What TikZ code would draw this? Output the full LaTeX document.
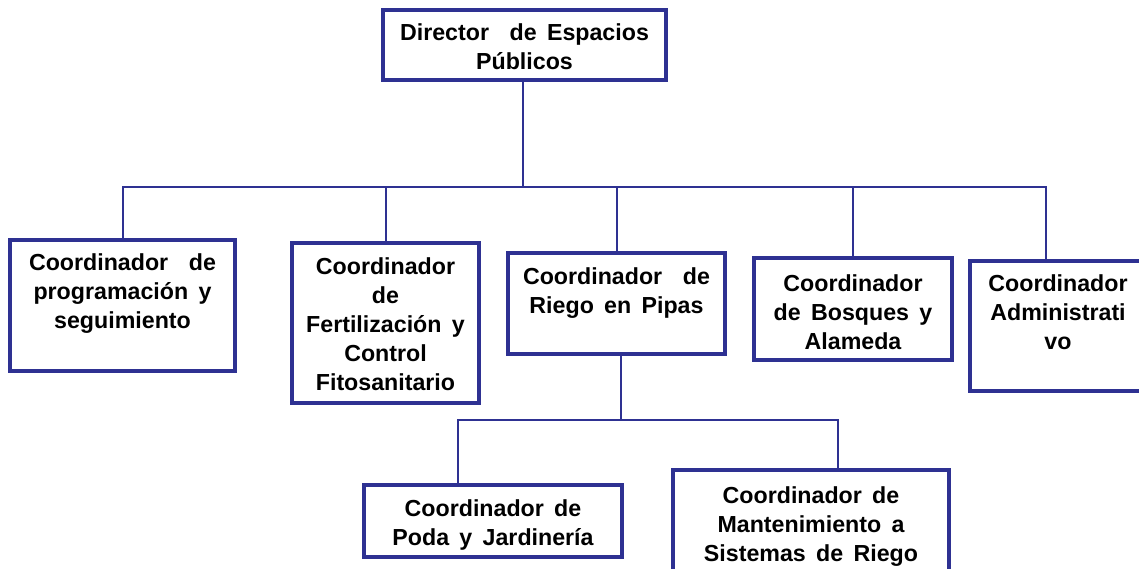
\documentclass[tikz,border=0pt]{standalone}
\usepackage{fontspec}
\setmainfont{Liberation Sans}[WordSpace=1.6]
\definecolor{navy}{RGB}{46,49,146}
\begin{document}
\begin{tikzpicture}[x=1pt,y=-1pt,
  box/.style={draw=navy, line width=3.2pt, fill=white, inner sep=0pt, outer sep=0pt},
  txt/.style={anchor=north, align=center, inner sep=0pt, text=black,
    font=\fontsize{23.2}{29}\selectfont\bfseries},
  conn/.style={draw=navy, line width=2pt}]
\clip (0,0) rectangle (1139,569);
\fill[white] (0,0) rectangle (1139,569);
% boxes
\node[box, minimum width=283pt, minimum height=70pt]  (dir) at (524.5,45) {};
\node[box, minimum width=225pt, minimum height=131pt] (b1) at (122.5,305.5) {};
\node[box, minimum width=187pt, minimum height=160pt] (b2) at (385.5,323) {};
\node[box, minimum width=217pt, minimum height=101pt] (b3) at (616.5,303.5) {};
\node[box, minimum width=198pt, minimum height=102pt] (b4) at (853,309) {};
\node[box, minimum width=176pt, minimum height=130pt] (b5) at (1058,326) {};
\node[box, minimum width=258pt, minimum height=72pt]  (b6) at (493,521) {};
\node[box, minimum width=276pt, minimum height=120pt] (b7) at (811,530) {};
% texts
\node[txt] (tdir) at ([yshift=-13pt]dir.north) {Director\ \ de Espacios\\Públicos};
\node[txt] (t1) at ([yshift=-13pt]b1.north) {Coordinador\ \ de\\programación y\\seguimiento};
\node[txt] (t2) at ([yshift=-14pt]b2.north) {Coordinador\\de\\Fertilización y\\Control\\Fitosanitario};
\node[txt] (t3) at ([yshift=-14pt]b3.north) {Coordinador\ \ de\\Riego en Pipas};
\node[txt] (t4) at ([yshift=-16pt]b4.north) {Coordinador\\de Bosques y\\Alameda};
\node[txt] (t5) at ([yshift=-13pt]b5.north) {Coordinador\\Administrati\\vo};
\node[txt] (t6) at ([yshift=-14pt]b6.north) {Coordinador de\\Poda y Jardinería};
\node[txt] (t7) at ([yshift=-16pt]b7.north) {Coordinador de\\Mantenimiento a\\Sistemas de Riego};
% connectors
\coordinate (bus) at (0,187);
\coordinate (lbus) at (0,420);
\coordinate (d5) at ([xshift=-12pt]b5.north);
\coordinate (d3) at ([xshift=4pt]b3.south);
\coordinate (d6) at ([xshift=-35pt]b6.north);
\coordinate (d7) at ([xshift=27pt]b7.north);
\draw[conn] ([xshift=-1.5pt]dir.south) -- ([xshift=-1.5pt]dir.south |- bus);
\draw[conn] (b1.north) -- (b1.north |- bus) -- (d5 |- bus) -- (d5);
\foreach \n in {b2,b3,b4} \draw[conn] (\n.north) -- (\n.north |- bus);
\draw[conn] (d3) -- (d3 |- lbus);
\draw[conn] (d6) -- (d6 |- lbus) -- (d7 |- lbus) -- (d7);
\end{tikzpicture}
\end{document}
